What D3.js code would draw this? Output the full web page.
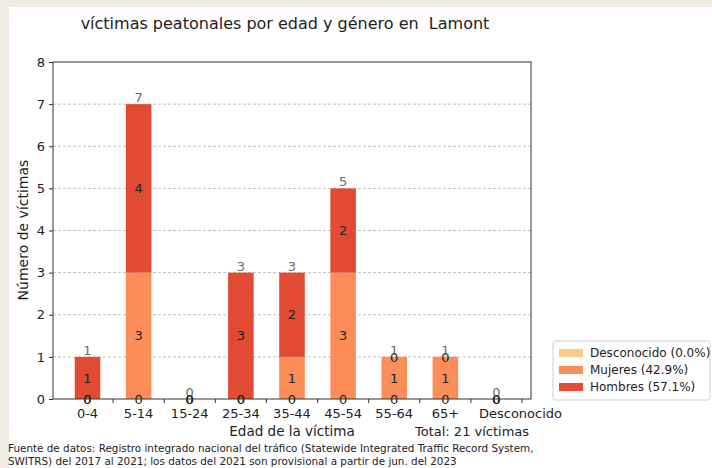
<!DOCTYPE html>
<html>
<head>
<meta charset="utf-8">
<script src="https://cdn.jsdelivr.net/npm/d3@7"></script>
<style>
  body { margin: 0; background: #efebe4; }
  svg { display: block; font-family: "DejaVu Sans", sans-serif; }
</style>
</head>
<body>
<script>
const categories = ["0-4", "5-14", "15-24", "25-34", "35-44", "45-54", "55-64", "65+", "Desconocido"];
const desconocido = [0, 0, 0, 0, 0, 0, 0, 0, 0];
const mujeres = [0, 3, 0, 0, 1, 3, 1, 1, 0];
const hombres = [1, 4, 0, 3, 2, 2, 0, 0, 0];
const yTicks = [0, 1, 2, 3, 4, 5, 6, 7, 8];
const seriesNames = ["Desconocido (0.0%)", "Mujeres (42.9%)", "Hombres (57.1%)"];
const colors = ["#fdcc8a", "#fc8d59", "#e34a33"];

const w = 712, h = 468;
const plotL = 53, plotR = 531, plotT = 62, plotB = 399;

const svg = d3.select("body").append("svg")
  .attr("width", w)
  .attr("height", h);

// white card on beige page
svg.append("rect").attr("x", 9).attr("y", 7).attr("width", w - 9).attr("height", h - 7).attr("fill", "#fff");

const x = d3.scaleLinear().domain([-0.675, 8.675]).range([plotL, plotR]);
const y = d3.scaleLinear().domain([0, 8]).range([plotB, plotT]);
const barW = x(0.25) - x(-0.25);

// grid
svg.append("g").selectAll("line")
  .data(yTicks.filter(d => d > 0 && d < 8))
  .enter().append("line")
  .attr("x1", plotL).attr("x2", plotR)
  .attr("y1", d => y(d)).attr("y2", d => y(d))
  .attr("stroke", "#b0b0b0")
  .attr("stroke-dasharray", "3,2")
  .attr("stroke-width", 0.8);

// stacked data
const rows = categories.map((c, i) => ({ c, i, v: [desconocido[i], mujeres[i], hombres[i]] }));
const stackSeries = [0, 1, 2].map(k => rows.map(r => {
  const y0 = d3.sum(r.v.slice(0, k));
  return { i: r.i, y0, y1: y0 + r.v[k], v: r.v[k] };
}));

stackSeries.forEach((s, k) => {
  svg.append("g").selectAll("rect")
    .data(s.filter(d => d.v > 0))
    .enter().append("rect")
    .attr("x", d => x(d.i) - barW / 2)
    .attr("width", barW)
    .attr("y", d => y(d.y1))
    .attr("height", d => y(d.y0) - y(d.y1))
    .attr("fill", colors[k]);
});

// segment labels
stackSeries.forEach(s => {
  svg.append("g").selectAll("text")
    .data(s)
    .enter().append("text")
    .attr("x", d => x(d.i))
    .attr("y", d => y((d.y0 + d.y1) / 2))
    .attr("dy", "0.36em")
    .attr("text-anchor", "middle")
    .attr("font-size", 13)
    .attr("fill", "#222")
    .text(d => d.v);
});

// totals
svg.append("g").selectAll("text")
  .data(rows)
  .enter().append("text")
  .attr("x", d => x(d.i))
  .attr("y", d => y(d3.sum(d.v)) - 2)
  .attr("text-anchor", "middle")
  .attr("font-size", 13)
  .attr("fill", "#6b6b6b")
  .text(d => d3.sum(d.v));

// frame
svg.append("rect")
  .attr("x", plotL).attr("y", plotT)
  .attr("width", plotR - plotL).attr("height", plotB - plotT)
  .attr("fill", "none").attr("stroke", "#333").attr("stroke-width", 1);

// y axis
const yAxis = svg.append("g").attr("transform", `translate(${plotL},0)`)
  .call(d3.axisLeft(y).tickValues(yTicks).tickFormat(d3.format("d")).tickSize(4).tickPadding(4));
yAxis.select(".domain").remove();
yAxis.selectAll("text").attr("font-size", 13).attr("fill", "#222").attr("font-family", "DejaVu Sans");
yAxis.selectAll("line").attr("stroke", "#333");

// x ticks (between categories) and labels at centres
svg.append("g").selectAll("line")
  .data(categories.map((c, i) => i + 0.5))
  .enter().append("line")
  .attr("x1", d => x(d)).attr("x2", d => x(d))
  .attr("y1", plotB).attr("y2", plotB + 4)
  .attr("stroke", "#333");
svg.append("g").selectAll("text")
  .data(categories)
  .enter().append("text")
  .attr("x", (d, i) => x(i) + (i === categories.length - 1 ? 24 : 0))
  .attr("y", plotB + 19)
  .attr("text-anchor", "middle")
  .attr("font-size", 13)
  .attr("fill", "#222")
  .text(d => d);

// titles
svg.append("text")
  .attr("x", 285).attr("y", 29)
  .attr("text-anchor", "middle")
  .attr("font-size", 16)
  .attr("fill", "#222")
  .style("white-space", "pre")
  .text("víctimas peatonales por edad y género en  Lamont");

svg.append("text")
  .attr("transform", "translate(28,230) rotate(-90)")
  .attr("text-anchor", "middle")
  .attr("font-size", 14)
  .attr("fill", "#222")
  .text("Número de víctimas");

svg.append("text")
  .attr("x", 292).attr("y", 436)
  .attr("text-anchor", "middle")
  .attr("font-size", 13.5)
  .attr("fill", "#222")
  .text("Edad de la víctima");

svg.append("text")
  .attr("x", 415).attr("y", 436)
  .attr("font-size", 13)
  .attr("fill", "#222")
  .text("Total: 21 víctimas");

// source note
const src = ["Fuente de datos: Registro integrado nacional del tráfico (Statewide Integrated Traffic Record System,",
  "SWITRS) del 2017 al 2021; los datos del 2021 son provisional a partir de jun. del 2023"];
svg.append("g").selectAll("text")
  .data(src)
  .enter().append("text")
  .attr("x", 8)
  .attr("y", (d, i) => 452 + i * 13)
  .attr("font-size", 10.4)
  .attr("fill", "#222")
  .text(d => d);

// legend
const lg = svg.append("g").attr("transform", "translate(553,341)");
lg.append("rect").attr("width", 157).attr("height", 59).attr("rx", 2)
  .attr("fill", "#fff").attr("stroke", "#d0d0d0");
const item = lg.selectAll("g.item")
  .data(seriesNames)
  .enter().append("g")
  .attr("class", "item")
  .attr("transform", (d, i) => `translate(0,${12 + i * 17})`);
item.append("rect").attr("x", 6).attr("y", -4).attr("width", 24).attr("height", 8)
  .attr("fill", (d, i) => colors[i]);
item.append("text").attr("x", 37).attr("dy", "0.36em")
  .attr("font-size", 12).attr("fill", "#222")
  .text(d => d);
</script>
</body>
</html>
